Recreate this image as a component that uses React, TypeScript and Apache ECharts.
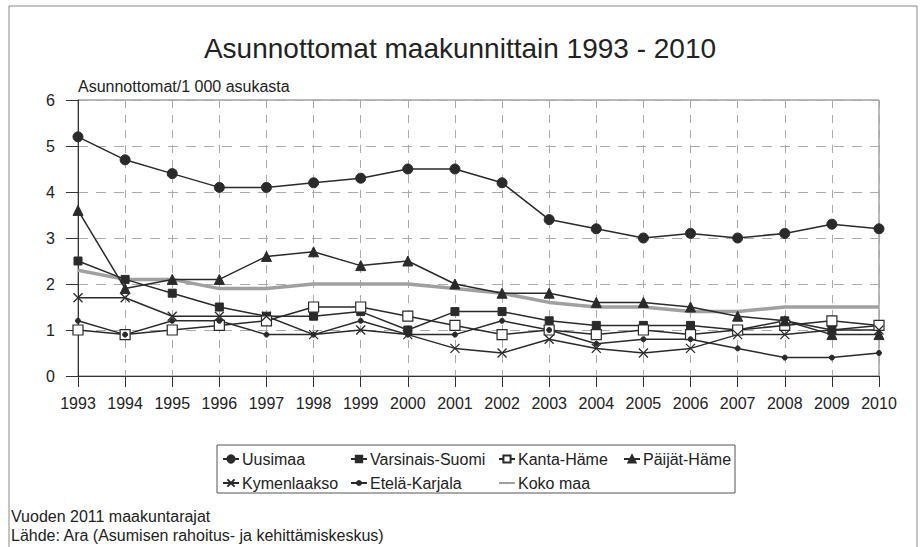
import React, { useEffect, useRef } from "react";
import * as echarts from "echarts";

const years = ["1993", "1994", "1995", "1996", "1997", "1998", "1999", "2000", "2001", "2002", "2003", "2004", "2005", "2006", "2007", "2008", "2009", "2010"];
const uusimaa = [5.2, 4.7, 4.4, 4.1, 4.1, 4.2, 4.3, 4.5, 4.5, 4.2, 3.4, 3.2, 3.0, 3.1, 3.0, 3.1, 3.3, 3.2];
const varsinaisSuomi = [2.5, 2.1, 1.8, 1.5, 1.3, 1.3, 1.4, 1.0, 1.4, 1.4, 1.2, 1.1, 1.1, 1.1, 1.0, 1.2, 1.0, 1.1];
const kantaHame = [1.0, 0.9, 1.0, 1.1, 1.2, 1.5, 1.5, 1.3, 1.1, 0.9, 1.0, 0.9, 1.0, 0.9, 1.0, 1.1, 1.2, 1.1];
const paijatHame = [3.6, 1.9, 2.1, 2.1, 2.6, 2.7, 2.4, 2.5, 2.0, 1.8, 1.8, 1.6, 1.6, 1.5, 1.3, 1.2, 0.9, 0.9];
const kymenlaakso = [1.7, 1.7, 1.3, 1.3, 1.3, 0.9, 1.0, 0.9, 0.6, 0.5, 0.8, 0.6, 0.5, 0.6, 0.9, 0.9, 1.0, 1.0];
const etelaKarjala = [1.2, 0.9, 1.2, 1.2, 0.9, 0.9, 1.2, 0.9, 0.9, 1.2, 1.0, 0.7, 0.8, 0.8, 0.6, 0.4, 0.4, 0.5];
const kokoMaa = [2.3, 2.1, 2.1, 1.9, 1.9, 2.0, 2.0, 2.0, 1.9, 1.8, 1.6, 1.5, 1.5, 1.4, 1.4, 1.5, 1.5, 1.5];

const TITLE = "Asunnottomat maakunnittain 1993 - 2010";
const Y_NAME = "Asunnottomat/1 000 asukasta";
const FOOT1 = "Vuoden 2011 maakuntarajat";
const FOOT2 = "Lähde: Ara (Asumisen rahoitus- ja kehittämiskeskus)";

const FONT = "'Liberation Sans', Arial, sans-serif";
const LINE = "#2a2a2a";
const GREY = "#a0a0a0";

export default function App() {
  const ref = useRef<HTMLDivElement>(null);
  useEffect(() => {
    document.body.style.margin = "0";
    const chart = echarts.init(ref.current!, null, { renderer: "svg" });
    const lineSeries = (name: string, data: number[], symbol: string, size: number, extra: any = {}) => ({
      name,
      type: "line",
      data,
      symbol,
      symbolSize: size,
      showAllSymbol: true,
      lineStyle: { color: LINE, width: 1.5 },
      itemStyle: { color: LINE, borderColor: LINE, borderWidth: 1, opacity: 1 },
      emphasis: { disabled: true },
      ...extra,
    });
    const leg = (name: string, left: number, row: number, ih: number) => ({
      left,
      top: (row === 0 ? 459 : 483) - 8,
      orient: "horizontal",
      itemWidth: 16,
      itemHeight: ih,
      padding: 0,
      selectedMode: false,
      data: [name],
      textStyle: { fontFamily: FONT, fontSize: 16, color: "#222", lineHeight: 16, padding: [0, 0, 0, -2] },
    });
    chart.setOption({
      animation: false,
      textStyle: { fontFamily: FONT },
      title: {
        text: TITLE,
        left: "center",
        top: 29,
        textStyle: { fontFamily: FONT, fontSize: 28, fontWeight: "normal", color: "#222" },
      },
      grid: {
        left: 78,
        right: 41,
        top: 100,
        bottom: 171,
        show: true,
        borderColor: "#777",
        borderWidth: 1,
      },
      legend: [
        leg("Uusimaa", 222, 0, 9),
        leg("Kymenlaakso", 222, 1, 9),
        leg("Varsinais-Suomi", 350, 0, 8),
        leg("Etelä-Karjala", 350, 1, 5),
        leg("Kanta-Häme", 498, 0, 9),
        leg("Koko maa", 498, 1, 3),
        leg("Päijät-Häme", 623, 0, 9),
      ],
      xAxis: {
        type: "category",
        data: years,
        boundaryGap: false,
        axisLine: { lineStyle: { color: "#333", width: 1 } },
        axisTick: { show: true, length: 11, inside: false, lineStyle: { color: "#333" } },
        axisLabel: { fontFamily: FONT, fontSize: 16, color: "#222", margin: 19 },
        splitLine: { show: true, lineStyle: { color: "#aaa", type: [8, 7], width: 1 } },
      },
      yAxis: {
        type: "value",
        min: 0,
        max: 6,
        interval: 1,
        name: Y_NAME,
        nameLocation: "end",
        nameGap: 6,
        nameTextStyle: { fontFamily: FONT, fontSize: 16, color: "#222", align: "left", verticalAlign: "bottom" },
        axisLine: { show: true, lineStyle: { color: "#333", width: 1 } },
        axisTick: { show: true, length: 12, lineStyle: { color: "#333" } },
        axisLabel: { fontFamily: FONT, fontSize: 16, color: "#222", margin: 23 },
        splitLine: { show: true, lineStyle: { color: "#aaa", type: [10, 8], width: 1 } },
      },
      series: [
        {
          name: "Koko maa",
          type: "line",
          data: kokoMaa,
          symbol: "none",
          lineStyle: { color: GREY, width: 3.5 },
          itemStyle: { color: GREY },
          emphasis: { disabled: true },
          z: 1,
        },
        lineSeries("Uusimaa", uusimaa, "circle", 10),
        lineSeries("Varsinais-Suomi", varsinaisSuomi, "rect", 8),
        lineSeries("Kanta-Häme", kantaHame, "rect", 10, {
          itemStyle: { color: "#fff", borderColor: LINE, borderWidth: 1.2, opacity: 1 },
        }),
        lineSeries("Päijät-Häme", paijatHame, "triangle", 10),
        lineSeries("Kymenlaakso", kymenlaakso, "path://M0,0L10,10M10,0L0,10", 9, {
          itemStyle: { color: "none", borderColor: LINE, borderWidth: 1.3, opacity: 1 },
        }),
        lineSeries("Etelä-Karjala", etelaKarjala, "circle", 5),
      ],
      graphic: [
        {
          type: "rect",
          shape: { x: 9, y: 6, width: 908, height: 560 },
          style: { fill: "none", stroke: "#888", lineWidth: 1 },
          silent: true,
        },
        {
          type: "rect",
          shape: { x: 217, y: 445, width: 518, height: 48 },
          style: { fill: "none", stroke: "#555", lineWidth: 1 },
          silent: true,
        },
        {
          type: "text",
          left: 11,
          top: 508,
          style: { text: FOOT1, fontFamily: FONT, fontSize: 16, fill: "#222" },
        },
        {
          type: "text",
          left: 11,
          top: 527,
          style: { text: FOOT2, fontFamily: FONT, fontSize: 16, fill: "#222" },
        },
      ],
    });
    return () => chart.dispose();
  }, []);
  return <div ref={ref} style={{ width: 920, height: 547 }} />;
}
